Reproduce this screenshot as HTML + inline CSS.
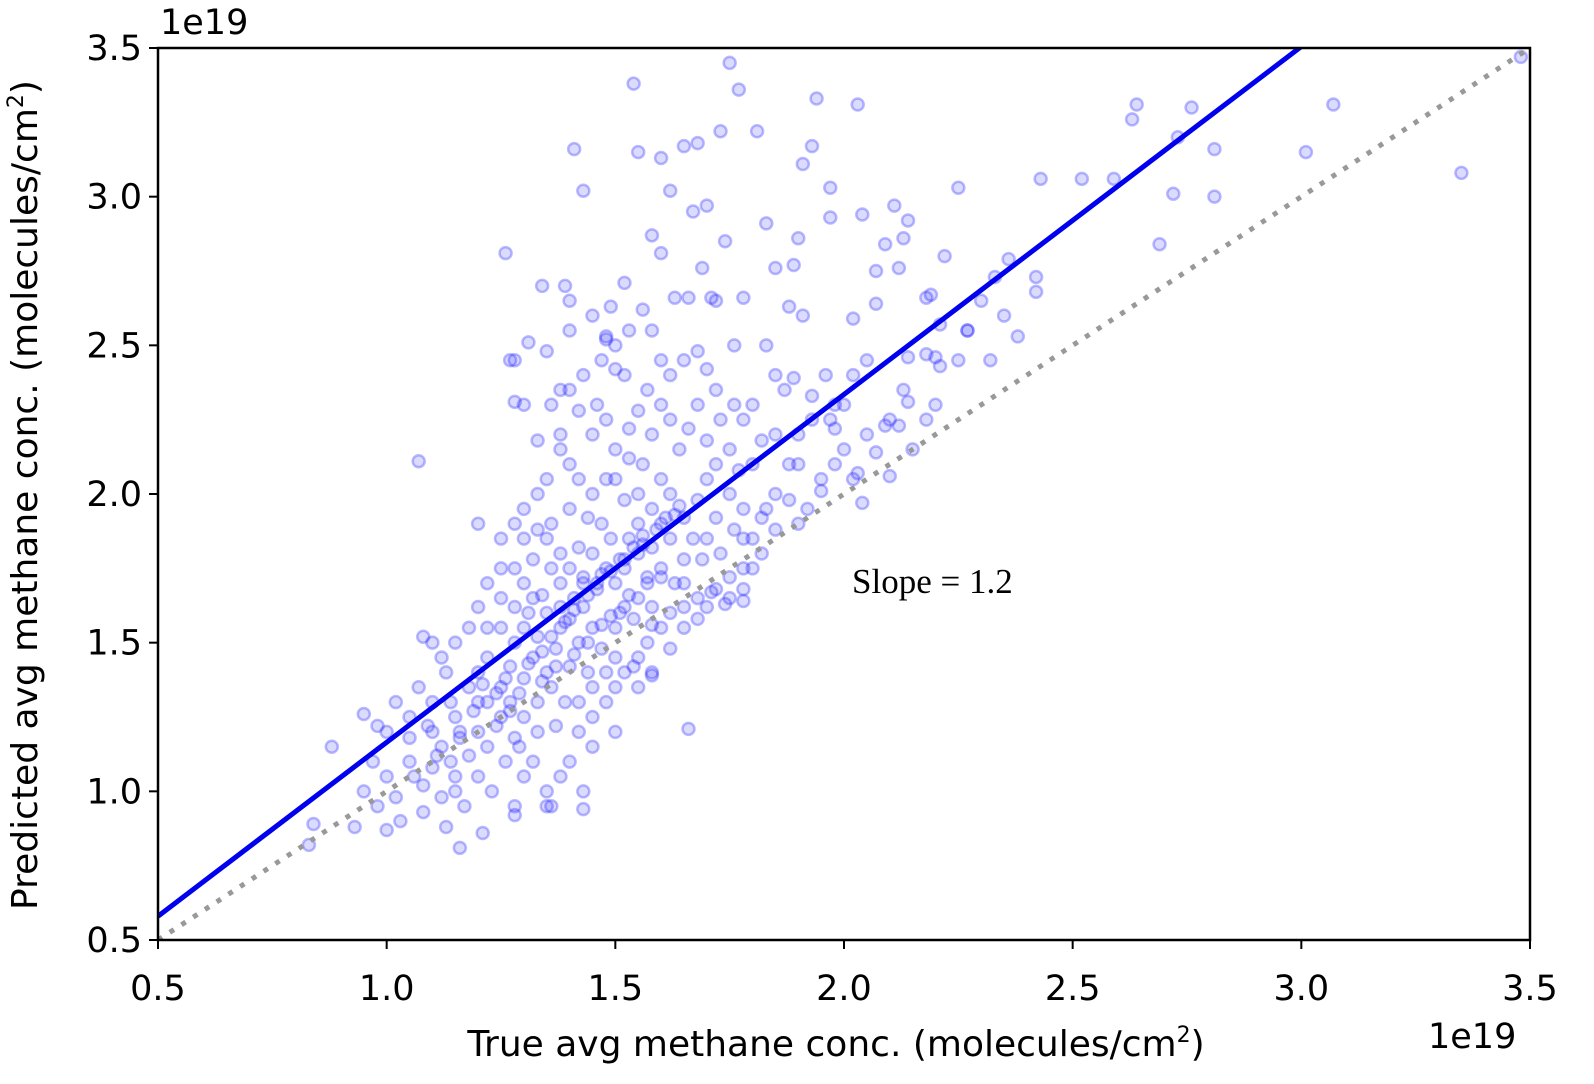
<!DOCTYPE html>
<html><head><meta charset="utf-8"><style>
html,body{margin:0;padding:0;background:#fff;}
svg{display:block;}
text{font-family:"DejaVu Sans","Liberation Sans",sans-serif;fill:#000;}
</style></head>
<body>
<svg id="chart" width="1594" height="1084" viewBox="0 0 1594 1084" xmlns="http://www.w3.org/2000/svg">
<defs><clipPath id="clip"><rect x="158" y="48" width="1372" height="892"/></clipPath></defs>
<g id="points" clip-path="url(#clip)"></g>
<g id="lines" clip-path="url(#clip)"></g>
<rect x="158" y="48" width="1372" height="892" fill="none" stroke="#000" stroke-width="2.5"/>
<g id="xticks"></g>
<g id="yticks"></g>
<text x="160" y="34" font-size="35">1e19</text>
<text x="1428" y="1048" font-size="35">1e19</text>
<text x="836" y="1056" font-size="36" text-anchor="middle">True avg methane conc. (molecules/cm<tspan font-size="22" dy="-14">2</tspan><tspan dy="14">)</tspan></text>
<text transform="translate(37,495) rotate(-90)" font-size="36" text-anchor="middle">Predicted avg methane conc. (molecules/cm<tspan font-size="22" dy="-14">2</tspan><tspan dy="14">)</tspan></text>
<text x="852" y="593" font-size="35" style="font-family:'Liberation Serif',serif">Slope = 1.2</text>
</svg>
<script>
const xTicks=[0.5,1.0,1.5,2.0,2.5,3.0,3.5];
const yTicks=[0.5,1.0,1.5,2.0,2.5,3.0,3.5];
const fitSlope=1.17;
const fitStart=[0.5,0.58];
const xs=[3.48,3.35,3.07,3.01,2.81,2.81,2.76,2.73,2.72,2.69,2.64,2.63,2.59,2.52,2.43,2.36,2.33,2.25,2.22,2.19,2.18,2.13,2.12,2.09,2.42,2.42,2.27,2.21,2.20,2.18,2.14,2.21,2.03,1.94,1.93,1.91,1.97,1.97,1.90,2.04,2.11,2.14,2.07,2.07,2.02,1.91,1.83,1.89,1.88,1.85,1.75,1.77,1.73,1.81,1.68,1.65,1.60,1.54,1.55,1.62,1.41,1.43,1.58,1.67,1.70,1.74,1.69,1.71,1.78,1.76,1.72,1.66,1.63,1.60,1.56,1.52,1.49,1.48,1.39,1.40,1.34,1.26,1.28,1.28,1.31,1.07,1.66,1.15,0.83,0.88,0.84,0.95,1.16,1.21,1.43,1.36,1.28,2.38,2.14,2.12,2.09,2.07,2.10,2.03,2.04,2.00,1.98,1.98,1.93,1.89,1.90,1.95,1.88,1.83,1.78,1.78,1.74,1.71,1.69,1.65,1.60,1.58,1.54,1.58,1.54,1.49,
1.00,1.02,1.05,1.08,1.10,1.12,1.05,1.00,0.97,0.98,1.03,1.08,1.12,1.15,1.18,1.20,1.15,1.10,1.07,1.05,1.13,1.18,1.22,1.25,1.22,1.20,1.17,1.13,1.23,1.26,1.28,0.95,0.93,1.00,1.02,0.98,1.10,1.06,1.14,1.16,
1.20,1.22,1.25,1.27,1.30,1.32,1.28,1.25,1.30,1.33,1.35,1.37,1.38,1.35,1.32,1.30,1.28,1.27,1.30,1.33,1.36,1.39,1.40,1.42,1.40,1.43,1.45,1.47,1.44,1.41,1.38,1.36,1.40,1.43,1.46,1.48,1.45,1.42,1.38,1.35,1.32,1.30,1.28,1.25,1.22,1.20,1.24,1.29,1.33,1.37,1.32,1.30,1.35,1.28,1.42,1.45,1.48,1.50,1.50,1.52,1.50,1.49,1.47,1.44,1.40,1.36,1.33,
1.52,1.55,1.53,1.55,1.58,1.55,1.52,1.50,1.53,1.56,1.60,1.62,1.60,1.62,1.58,1.60,1.63,1.65,1.67,1.65,1.68,1.70,1.72,1.70,1.73,1.75,1.77,1.75,1.72,1.70,1.73,1.76,1.78,1.80,1.82,1.78,1.76,1.72,1.68,1.66,1.64,1.62,1.60,1.58,1.57,1.62,1.65,1.68,1.70,1.55,1.53,1.50,1.48,1.46,1.45,1.48,1.45,1.42,1.40,1.38,1.36,1.40,1.43,1.47,1.50,1.53,1.58,1.60,1.80,1.85,1.83,1.87,1.85,1.88,1.85,1.82,1.80,1.78,1.75,1.72,1.68,1.65,1.62,1.58,1.55,1.57,
1.20,1.25,1.28,1.30,1.33,1.35,1.38,1.33,1.30,1.27,1.38,1.42,1.35,1.40,1.45,1.50,1.48,1.52,1.25,1.22,1.20,1.18,1.15,1.12,1.10,1.08,
1.42,1.45,1.48,1.50,1.52,1.55,1.57,1.60,1.62,1.55,1.58,1.50,1.45,1.40,1.38,1.43,1.35,1.65,1.68,1.70,1.75,1.78,1.80,1.82,1.85,1.90,1.92,1.95,1.90,1.93,1.97,2.00,1.96,2.02,2.05,1.98,2.02,2.05,2.10,2.13,2.15,2.18,2.20,2.25,2.27,2.30,2.32,2.35,
1.24,1.26,1.31,1.34,1.36,1.39,1.41,1.44,1.46,1.49,1.51,1.54,1.56,1.59,1.61,1.64,1.27,1.29,1.34,1.37,1.41,1.44,1.47,1.51,1.53,1.57,1.21,1.19,1.16,1.11,1.09,1.14,1.31,1.34,1.38,1.43,1.47,1.52,1.56,1.63];
const ys=[3.47,3.08,3.31,3.15,3.16,3.00,3.30,3.20,3.01,2.84,3.31,3.26,3.06,3.06,3.06,2.79,2.73,3.03,2.80,2.67,2.66,2.86,2.76,2.84,2.68,2.73,2.55,2.57,2.46,2.47,2.46,2.43,3.31,3.33,3.17,3.11,3.03,2.93,2.86,2.94,2.97,2.92,2.75,2.64,2.59,2.60,2.91,2.77,2.63,2.76,3.45,3.36,3.22,3.22,3.18,3.17,3.13,3.38,3.15,3.02,3.16,3.02,2.87,2.95,2.97,2.85,2.76,2.66,2.66,2.50,2.65,2.66,2.66,2.81,2.62,2.71,2.63,2.53,2.70,2.65,2.70,2.81,2.45,2.31,2.51,2.11,1.21,1.00,0.82,1.15,0.89,1.26,0.81,0.86,0.94,0.95,0.92,2.53,2.31,2.23,2.23,2.14,2.06,2.07,1.97,2.15,2.22,2.30,2.33,2.39,2.10,2.01,1.98,1.95,1.85,1.64,1.63,1.67,1.78,1.70,1.72,1.56,1.42,1.39,1.58,1.59,
1.05,0.98,1.10,1.02,1.08,1.15,1.18,1.20,1.10,0.95,0.90,0.93,0.98,1.05,1.12,1.20,1.25,1.30,1.35,1.25,1.40,1.35,1.30,1.25,1.15,1.05,0.95,0.88,1.00,1.10,1.18,1.00,0.88,0.87,1.30,1.22,1.20,1.05,1.10,1.18,
1.40,1.45,1.35,1.42,1.38,1.45,1.50,1.55,1.55,1.52,1.40,1.48,1.55,1.60,1.65,1.70,1.62,1.30,1.25,1.30,1.35,1.30,1.42,1.50,1.58,1.62,1.55,1.48,1.40,1.65,1.70,1.75,1.75,1.72,1.68,1.75,1.80,1.82,1.80,1.85,1.78,1.85,1.75,1.65,1.55,1.30,1.22,1.15,1.20,1.22,1.10,1.05,1.00,0.95,1.30,1.35,1.40,1.45,1.55,1.62,1.70,1.85,1.90,1.92,1.95,1.90,1.88,
1.75,1.80,1.85,1.90,1.95,2.00,1.98,2.05,2.12,2.10,2.05,2.00,1.90,1.85,1.82,1.75,1.70,1.78,1.85,1.92,1.98,2.05,2.10,2.18,2.25,2.15,2.08,2.00,1.92,1.85,1.80,1.88,1.95,2.10,2.18,2.25,2.30,2.35,2.30,2.22,2.15,2.25,2.30,2.20,2.35,2.40,2.45,2.48,2.42,2.28,2.22,2.15,2.25,2.30,2.20,2.05,2.00,2.05,2.10,2.20,2.30,2.35,2.40,2.45,2.50,2.55,2.55,2.45,2.30,2.40,2.50,2.35,2.20,2.10,2.00,1.92,1.85,1.75,1.72,1.68,1.65,1.62,1.60,1.62,1.65,1.72,
1.90,1.85,1.90,1.95,2.00,2.05,2.15,2.18,2.30,2.45,2.35,2.28,2.48,2.55,2.60,2.42,2.52,2.40,1.75,1.70,1.62,1.55,1.50,1.45,1.50,1.52,
1.20,1.25,1.30,1.35,1.40,1.45,1.50,1.55,1.48,1.35,1.40,1.20,1.15,1.10,1.05,1.00,0.95,1.55,1.58,1.62,1.65,1.68,1.75,1.80,1.88,1.90,1.95,2.05,2.20,2.25,2.25,2.30,2.40,2.40,2.45,2.10,2.05,2.20,2.25,2.35,2.15,2.25,2.30,2.45,2.55,2.65,2.45,2.60,
1.33,1.38,1.43,1.47,1.52,1.57,1.61,1.66,1.70,1.74,1.78,1.82,1.86,1.88,1.92,1.96,1.27,1.33,1.37,1.42,1.46,1.50,1.56,1.60,1.66,1.70,1.36,1.27,1.20,1.12,1.22,1.30,1.60,1.66,1.62,1.70,1.73,1.78,1.83,1.93];

const X0=158,X1=1530,Y0=940,Y1=48,D0=0.5,D1=3.5;
const sx=v=>X0+(v-D0)/(D1-D0)*(X1-X0);
const sy=v=>Y0-(v-D0)/(D1-D0)*(Y0-Y1);
const NS="http://www.w3.org/2000/svg";
function mk(tag,attrs,parent){const e=document.createElementNS(NS,tag);for(const k in attrs)e.setAttribute(k,attrs[k]);parent.appendChild(e);return e;}

const pg=document.getElementById('points');
for(let i=0;i<xs.length;i++){
  const c=mk('circle',{cx:sx(xs[i]),cy:sy(ys[i]),r:6,fill:'rgba(0,0,255,0.14)',stroke:'rgba(30,30,255,0.3)','stroke-width':2.5},pg);
  
  
}
const lg=document.getElementById('lines');
const idl=mk('line',{x1:sx(0.5),y1:sy(0.5),x2:sx(3.5),y2:sy(3.5),stroke:'#999','stroke-width':5,'stroke-dasharray':'5 9'},lg);


const xe=3.6;
const fit=mk('line',{x1:sx(fitStart[0]),y1:sy(fitStart[1]),x2:sx(xe),y2:sy(fitStart[1]+fitSlope*(xe-fitStart[0])),stroke:'#0000ee','stroke-width':5},lg);



const xg=document.getElementById('xticks');
xTicks.forEach(t=>{
  const l=mk('line',{x1:sx(t),x2:sx(t),y1:940,y2:949,stroke:'#000','stroke-width':2},xg);
  
  
  const tx=mk('text',{x:sx(t),y:1000,'font-size':35,'text-anchor':'middle'},xg);
  tx.textContent=t.toFixed(1);
  
  
});
const yg=document.getElementById('yticks');
yTicks.forEach(t=>{
  const l=mk('line',{x1:149,x2:158,y1:sy(t),y2:sy(t),stroke:'#000','stroke-width':2},yg);
  
  
  const tx=mk('text',{x:142,y:sy(t)+12,'font-size':35,'text-anchor':'end'},yg);
  tx.textContent=t.toFixed(1);
  
  
});
</script>
</body></html>
